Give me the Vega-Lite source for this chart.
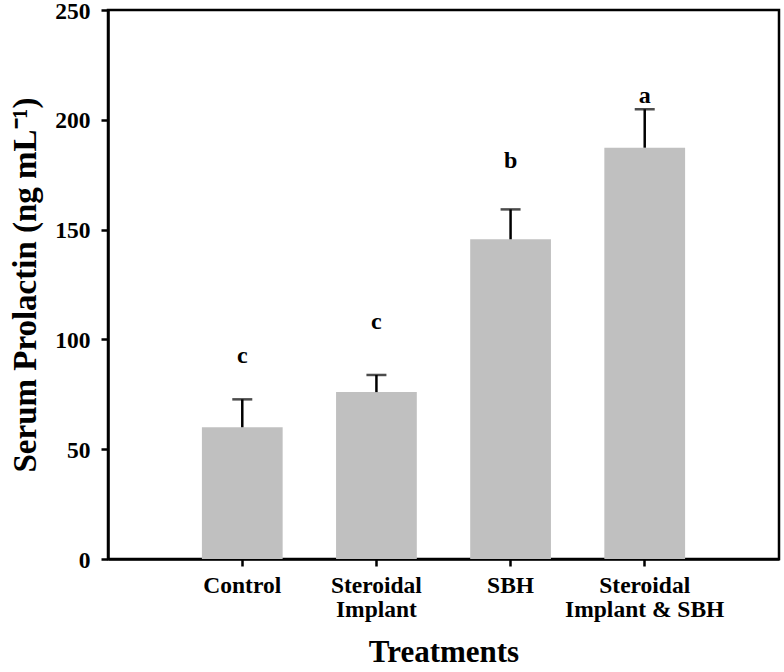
{
  "$schema": "https://vega.github.io/schema/vega-lite/v6.json",
  "autosize": {"type": "none"},
  "padding": {"left": 108, "top": 10, "right": 5, "bottom": 113},
  "width": 671,
  "height": 549,
  "background": "white",
  "config": {
    "view": {"stroke": "black", "strokeWidth": 2.5},
    "font": "Liberation Serif",
    "axis": {
      "grid": false,
      "domainColor": "black",
      "domainWidth": 2.5,
      "tickColor": "black",
      "tickWidth": 2.5,
      "labelFont": "Liberation Serif",
      "labelFontWeight": "bold",
      "labelColor": "black",
      "labelFontSize": 23.5,
      "titleFont": "Liberation Serif",
      "titleFontWeight": "bold",
      "titleColor": "black"
    }
  },
  "data": {
    "values": [
      {"treatment": "Control", "mean": 60.0, "upper": 72.7, "letter": "c", "ly": 89.3},
      {"treatment": "Steroidal Implant", "mean": 76.0, "upper": 83.8, "letter": "c", "ly": 104.7},
      {"treatment": "SBH", "mean": 145.6, "upper": 159.2, "letter": "b", "ly": 177.9},
      {"treatment": "Steroidal Implant & SBH", "mean": 187.3, "upper": 204.8, "letter": "a", "ly": 207.7}
    ]
  },
  "encoding": {
    "x": {
      "field": "treatment",
      "type": "nominal",
      "sort": null,
      "scale": {"paddingInner": 0.398, "paddingOuter": 0.7, "align": 0.5},
      "axis": {
        "title": "Treatments",
        "titleFontSize": 31,
        "titlePadding": 17,
        "labelAngle": 0,
        "tickSize": 7,
        "labelPadding": 7,
        "labelLineHeight": 24,
        "labelExpr": "datum.value == 'Steroidal Implant' ? ['Steroidal', 'Implant'] : datum.value == 'Steroidal Implant & SBH' ? ['Steroidal', 'Implant & SBH'] : datum.value"
      }
    }
  },
  "layer": [
    {
      "mark": {"type": "bar", "color": "#c0c0c0"},
      "encoding": {
        "y": {
          "field": "mean",
          "type": "quantitative",
          "scale": {"domain": [0, 250], "nice": false},
          "axis": {
            "title": "Serum Prolactin (ng mL⁻¹)",
            "titleFontSize": 33,
            "titlePadding": 12,
            "values": [0, 50, 100, 150, 200, 250],
            "tickSize": 7,
            "labelPadding": 11,
            "labelOffset": 1
          }
        }
      }
    },
    {
      "mark": {"type": "rule", "color": "black", "strokeWidth": 2.5},
      "encoding": {
        "y": {"field": "mean", "type": "quantitative"},
        "y2": {"field": "upper"}
      }
    },
    {
      "mark": {"type": "tick", "color": "black", "thickness": 2.5, "size": 20},
      "encoding": {
        "y": {"field": "upper", "type": "quantitative"}
      }
    },
    {
      "mark": {"type": "text", "font": "Liberation Serif", "fontWeight": "bold", "fontSize": 24, "baseline": "alphabetic", "color": "black"},
      "encoding": {
        "y": {"field": "ly", "type": "quantitative"},
        "text": {"field": "letter"}
      }
    }
  ]
}
